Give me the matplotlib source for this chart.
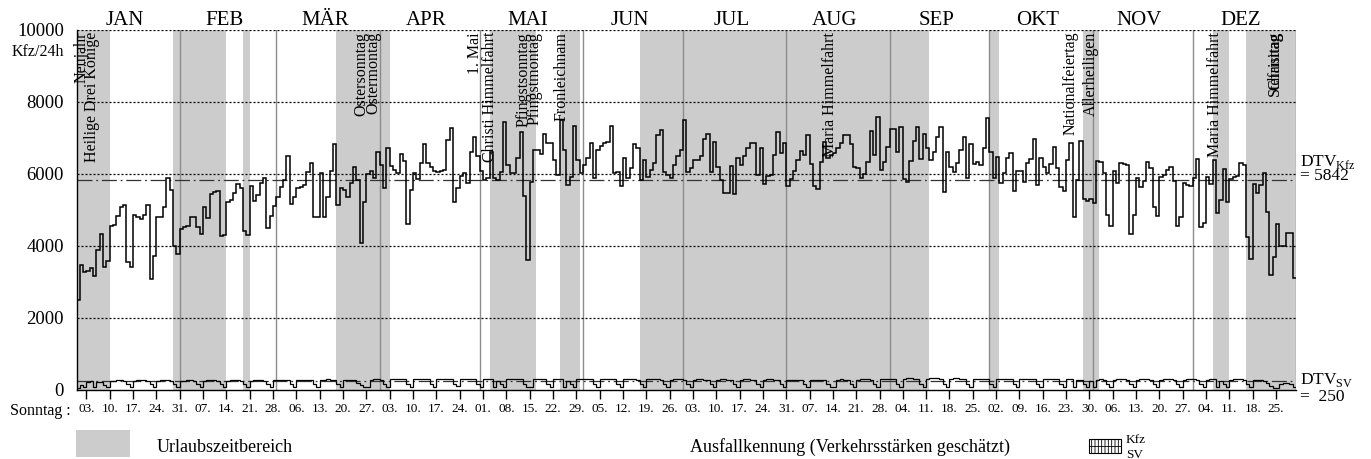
import datetime as dt
import matplotlib
matplotlib.use("Agg")
import matplotlib.pyplot as plt
import numpy as np
from matplotlib.patches import Rectangle
from matplotlib.lines import Line2D
from matplotlib.transforms import blended_transform_factory

plt.rcParams["font.family"] = ["Liberation Serif", "DejaVu Serif"]
plt.rcParams["hatch.linewidth"] = 0.6

# daily traffic 2016 (leap year), index 0 = 1 Jan, Kfz/24h
kfz_jan = [2500, 3470, 3290, 3300, 3380, 3170, 3890, 4325, 3425, 3590, 4556, 4583, 4833, 5090, 5130, 3546,
           3426, 4852, 4796, 4750, 4861, 5130, 3074, 3732, 4815, 4815, 5074, 5880, 5556, 4010, 3778]
kfz_feb = [4463, 4537, 4565, 4796, 4796, 4530, 4330, 5074, 4769, 5445, 5510, 5537, 4280, 4300, 5232, 5278,
           5463, 5722, 5602, 4417, 4306, 5667, 5250, 5417, 5741, 5880, 4510, 4833, 5110]
kfz_mar = [5370, 5630, 5830, 6510, 5170, 5350, 5600, 5630, 5690, 6065, 6300, 4800, 4800, 6040, 4800, 5350,
           6093, 6825, 5140, 5600, 5556, 5352, 5740, 6200, 5830, 4093, 5230, 6000, 6093, 5900, 6620]
kfz_apr = [6250, 5600, 6710, 6220, 6110, 6040, 6545, 6370, 4610, 5556, 6040, 5850, 6315, 6825, 6300, 6204,
           6080, 6065, 6090, 6110, 6950, 7287, 5220, 5620, 5950, 6040, 5760, 6610, 7030, 6490]
kfz_may = [6093, 5830, 5880, 6600, 5900, 5830, 6050, 7450, 6250, 6030, 6020, 6436, 7170, 5380, 3611, 5787,
           6667, 6667, 6556, 7102, 6860, 6850, 6400, 5970, 7500, 6667, 5695, 5926, 7320, 6390, 6019]
kfz_jun = [6250, 6436, 6852, 5900, 6667, 6780, 6870, 6900, 7340, 6019, 6065, 5660, 6436, 5880, 6158, 6824,
           6713, 5834, 6389, 5908, 6111, 6297, 7083, 7222, 6065, 5972, 5880, 6250, 6500, 6667]
kfz_jul = [7500, 6065, 6180, 6390, 6390, 6500, 6973, 7102, 6065, 6900, 6204, 5834, 5463, 5480, 6232, 5435,
           6435, 6250, 6500, 6713, 6852, 6852, 5972, 6732, 5722, 5945, 5972, 6528, 7158, 6593, 6852]
kfz_aug = [5667, 5861, 6093, 6390, 6648, 6528, 7083, 6278, 5667, 5574, 6343, 6900, 6436, 6528, 6593, 6713,
           6852, 7083, 7083, 6825, 6204, 6158, 5880, 6000, 6343, 7204, 6528, 7574, 6110, 6343, 6741]
kfz_sep = [7241, 7241, 6602, 7296, 5861, 5787, 6361, 6926, 7315, 6417, 7102, 6713, 6390, 6621, 7019, 7296,
           5509, 6621, 6204, 6065, 6315, 6667, 7037, 5898, 6834, 6269, 6343, 6250, 6713, 7547]
kfz_okt = [6621, 5880, 6482, 5741, 6037, 6436, 6574, 5537, 6084, 6093, 5787, 6297, 6408, 6963, 5695, 6436,
           6204, 6019, 6278, 6760, 6158, 5630, 5537, 6390, 6852, 4815, 5834, 6926, 5296, 5259, 5296]
kfz_nov = [5204, 6361, 6343, 6037, 4861, 4556, 6084, 5741, 6315, 6278, 6250, 4333, 4861, 5880, 5630, 5806,
           6343, 6158, 5074, 4833, 5926, 5972, 6111, 6204, 5806, 4556, 4796, 5741, 5695, 5676]
kfz_dez = [5880, 6408, 4537, 4630, 5908, 5722, 6390, 4907, 5278, 6130, 5232, 5861, 5908, 5945, 6297, 6250,
           4260, 3630, 5713, 5463, 5695, 6019, 4954, 3195, 3704, 4611, 4009, 4000, 4352, 4352, 3102]

# daily heavy traffic (SV/24h)
sv_jan = [60, 150, 80, 220, 240, 80, 230, 230, 150, 80, 250, 260, 265, 265, 255, 160,
          90, 260, 265, 270, 265, 260, 160, 90, 260, 270, 275, 270, 260, 165, 90]
sv_feb = [250, 260, 265, 265, 250, 160, 85, 255, 265, 265, 270, 255, 160, 85, 260, 270,
          270, 270, 255, 165, 90, 260, 270, 275, 275, 260, 165, 90, 270]
sv_mar = [280, 285, 280, 270, 170, 95, 275, 285, 290, 285, 275, 170, 95, 280, 290, 295,
          290, 280, 175, 95, 280, 290, 290, 280, 200, 150, 80, 90, 290, 300, 300]
sv_apr = [290, 175, 95, 300, 310, 310, 305, 295, 180, 95, 300, 310, 310, 310, 300, 180,
          95, 305, 315, 315, 310, 300, 180, 100, 300, 310, 315, 310, 300, 180]
sv_may = [90, 300, 310, 305, 90, 250, 170, 90, 300, 310, 315, 310, 300, 175, 85, 90,
          305, 310, 310, 300, 175, 95, 300, 310, 305, 90, 250, 170, 95, 300, 310]
sv_jun = [310, 305, 295, 175, 95, 300, 310, 310, 305, 295, 175, 95, 300, 305, 310, 305,
          290, 175, 95, 295, 305, 305, 300, 290, 170, 95, 290, 300, 300, 300]
sv_jul = [290, 170, 90, 285, 295, 295, 290, 280, 165, 90, 285, 295, 295, 290, 280, 165,
          90, 285, 295, 295, 290, 280, 165, 90, 285, 295, 295, 290, 280, 165, 90]
sv_aug = [280, 290, 290, 285, 275, 160, 90, 285, 290, 290, 285, 275, 160, 90, 90, 290,
          295, 290, 280, 165, 90, 290, 300, 300, 295, 285, 170, 90, 300, 310, 310]
sv_sep = [310, 300, 175, 95, 310, 320, 320, 315, 305, 180, 95, 310, 320, 325, 320, 305,
          180, 95, 310, 320, 320, 315, 305, 180, 95, 305, 315, 315, 310, 300]
sv_okt = [175, 95, 300, 310, 310, 305, 295, 175, 90, 300, 310, 310, 305, 295, 175, 90,
          300, 310, 310, 305, 295, 175, 90, 300, 310, 90, 290, 280, 165, 90, 250]
sv_nov = [90, 290, 300, 290, 170, 90, 290, 300, 300, 295, 285, 170, 90, 290, 300, 300,
          295, 285, 170, 90, 290, 300, 300, 295, 285, 170, 90, 290, 300, 300]
sv_dez = [295, 285, 170, 90, 290, 300, 300, 90, 260, 165, 90, 290, 300, 300, 295, 280,
          160, 85, 270, 275, 270, 250, 200, 100, 60, 60, 180, 190, 190, 170, 90]

dtv_kfz = 5842
dtv_sv = 250

months = ["JAN", "FEB", "MÄR", "APR", "MAI", "JUN", "JUL", "AUG", "SEP", "OKT", "NOV", "DEZ"]
month_days = [31, 29, 31, 30, 31, 30, 31, 31, 30, 31, 30, 31]

# Urlaubszeitbereich: (first day index, day index after last day)
urlaub = [(0, 10), (29, 45), (50, 52), (78, 94), (124, 138), (145, 151), (169, 256),
          (274, 277), (302, 307), (341, 346), (351, 366)]

# holiday labels: text, day index, shift of the label in days
feiertage = [("Neujahr", 0, 1.15), ("Heilige Drei Könige", 5, -0.7), ("Ostersonntag", 86, -1.0),
             ("Ostermontag", 87, 1.5), ("1. Mai", 121, -1.9), ("Christi Himmelfahrt", 125, -1.4),
             ("Pfingstsonntag", 135, -1.2), ("Pfingstmontag", 136, 1.1), ("Fronleichnam", 146, -0.8),
             ("Maria Himmelfahrt", 227, -1.4), ("Nationalfeiertag", 299, -1.0),
             ("Allerheiligen", 305, -1.0), ("Maria Himmelfahrt", 342, -0.8),
             ("Christtag", 359, 0.2), ("Stefanitag", 360, -0.8)]

kfz = np.array(kfz_jan + kfz_feb + kfz_mar + kfz_apr + kfz_may + kfz_jun + kfz_jul + kfz_aug
               + kfz_sep + kfz_okt + kfz_nov + kfz_dez, dtype=float)
sv = np.array(sv_jan + sv_feb + sv_mar + sv_apr + sv_may + sv_jun + sv_jul + sv_aug
              + sv_sep + sv_okt + sv_nov + sv_dez, dtype=float)
ndays = len(kfz)
edges = np.arange(ndays + 1)

start = dt.date(2016, 1, 1)
sundays = [d for d in range(ndays) if (start + dt.timedelta(d)).weekday() == 6]
sunday_labels = ["%02d." % (start + dt.timedelta(d)).day for d in sundays]

W, H = 1371, 459
fig = plt.figure(figsize=(W / 100, H / 100), dpi=100)
ax = fig.add_axes([76.5 / W, 69 / H, 1219.5 / W, 360 / H])
ax.set_xlim(0, ndays)
ax.set_ylim(0, 10000)

for a, b in urlaub:
    ax.axvspan(a, b, color="#cccccc", lw=0, zorder=0)

mstart = np.cumsum([0] + month_days)
for m in mstart[1:]:
    ax.axvline(m, color="#8c8c8c", lw=1.0, zorder=1)
for i, name in enumerate(months):
    ax.text((mstart[i] + mstart[i + 1]) / 2 - 1, 10140, name, ha="center", va="baseline",
            fontsize=15, clip_on=False)

for yv in [2000, 4000, 6000, 8000, 10000]:
    ax.axhline(yv, color="black", lw=0.9, ls=(0, (1.6, 1.6)), zorder=2)
ax.axhline(dtv_kfz, color="#333333", lw=0.9, ls=(0, (12, 3, 1.5, 3)), zorder=2)
ax.axhline(dtv_sv, color="#333333", lw=0.9, ls=(0, (12, 3, 1.5, 3)), zorder=2)

ax.stairs(kfz, edges, color="black", lw=1.1, baseline=None, zorder=3)
ax.stairs(sv, edges, color="black", lw=0.9, baseline=None, zorder=3)

for name, d, shift in feiertage:
    ax.text(d + 0.5 + shift, 9945, name, rotation=90, ha="center", va="top",
            fontsize=11.5, zorder=4)

for s in ["top", "right"]:
    ax.spines[s].set_visible(False)
ax.spines["left"].set_linewidth(1.0)
ax.spines["bottom"].set_linewidth(1.0)
ax.spines["bottom"].set_zorder(5)

ax.set_yticks([0, 2000, 4000, 6000, 8000, 10000])
ax.tick_params(axis="y", length=0, pad=9, labelsize=13.5)
ax.set_xticks(np.array(sundays) + 1)
ax.set_xticklabels(sunday_labels)
ax.tick_params(axis="x", direction="out", length=6.5, width=1, pad=3, labelsize=9.5)

fig.text(64 / W, 1 - 52 / H, "Kfz/24h", ha="right", va="center", fontsize=11.5)
fig.text(71 / W, 1 - 411 / H, "Sonntag :", ha="right", va="center", fontsize=11.5)

tr = blended_transform_factory(ax.transAxes, ax.transData)
ax.text(1.003, 6330, r"DTV$_{\mathregular{Kfz}}$", transform=tr, ha="left", va="center", fontsize=12.5)
ax.text(1.003, 5940, "= 5842", transform=tr, ha="left", va="center", fontsize=12.5)
ax.text(1.003, 280, r"DTV$_{\mathregular{SV}}$", transform=tr, ha="left", va="center", fontsize=12.5)
ax.text(1.003, -190, "=  250", transform=tr, ha="left", va="center", fontsize=12.5, clip_on=False)

# legend row
fig.add_artist(Rectangle((76 / W, 2 / H), 54 / W, 27 / H, transform=fig.transFigure,
                         facecolor="#cccccc", edgecolor="none"))
fig.text(157 / W, 1 - 447 / H, "Urlaubszeitbereich", ha="left", va="center", fontsize=13)
fig.text(690 / W, 1 - 447 / H, "Ausfallkennung (Verkehrsstärken geschätzt)", ha="left",
         va="center", fontsize=13)
fig.add_artist(Rectangle((1089 / W, 1 - 453 / H), 32 / W, 14 / H, transform=fig.transFigure,
                         facecolor="white", edgecolor="black", lw=0.8, hatch="|||||"))
fig.add_artist(Line2D([1089 / W, 1121 / W], [1 - 446 / H, 1 - 446 / H], transform=fig.transFigure,
                      color="black", lw=0.6))
fig.text(1126 / W, 1 - 440 / H, "Kfz", ha="left", va="center", fontsize=9.5)
fig.text(1126 / W, 1 - 455 / H, "SV", ha="left", va="center", fontsize=9.5)

fig.savefig("out.png", dpi=100)
